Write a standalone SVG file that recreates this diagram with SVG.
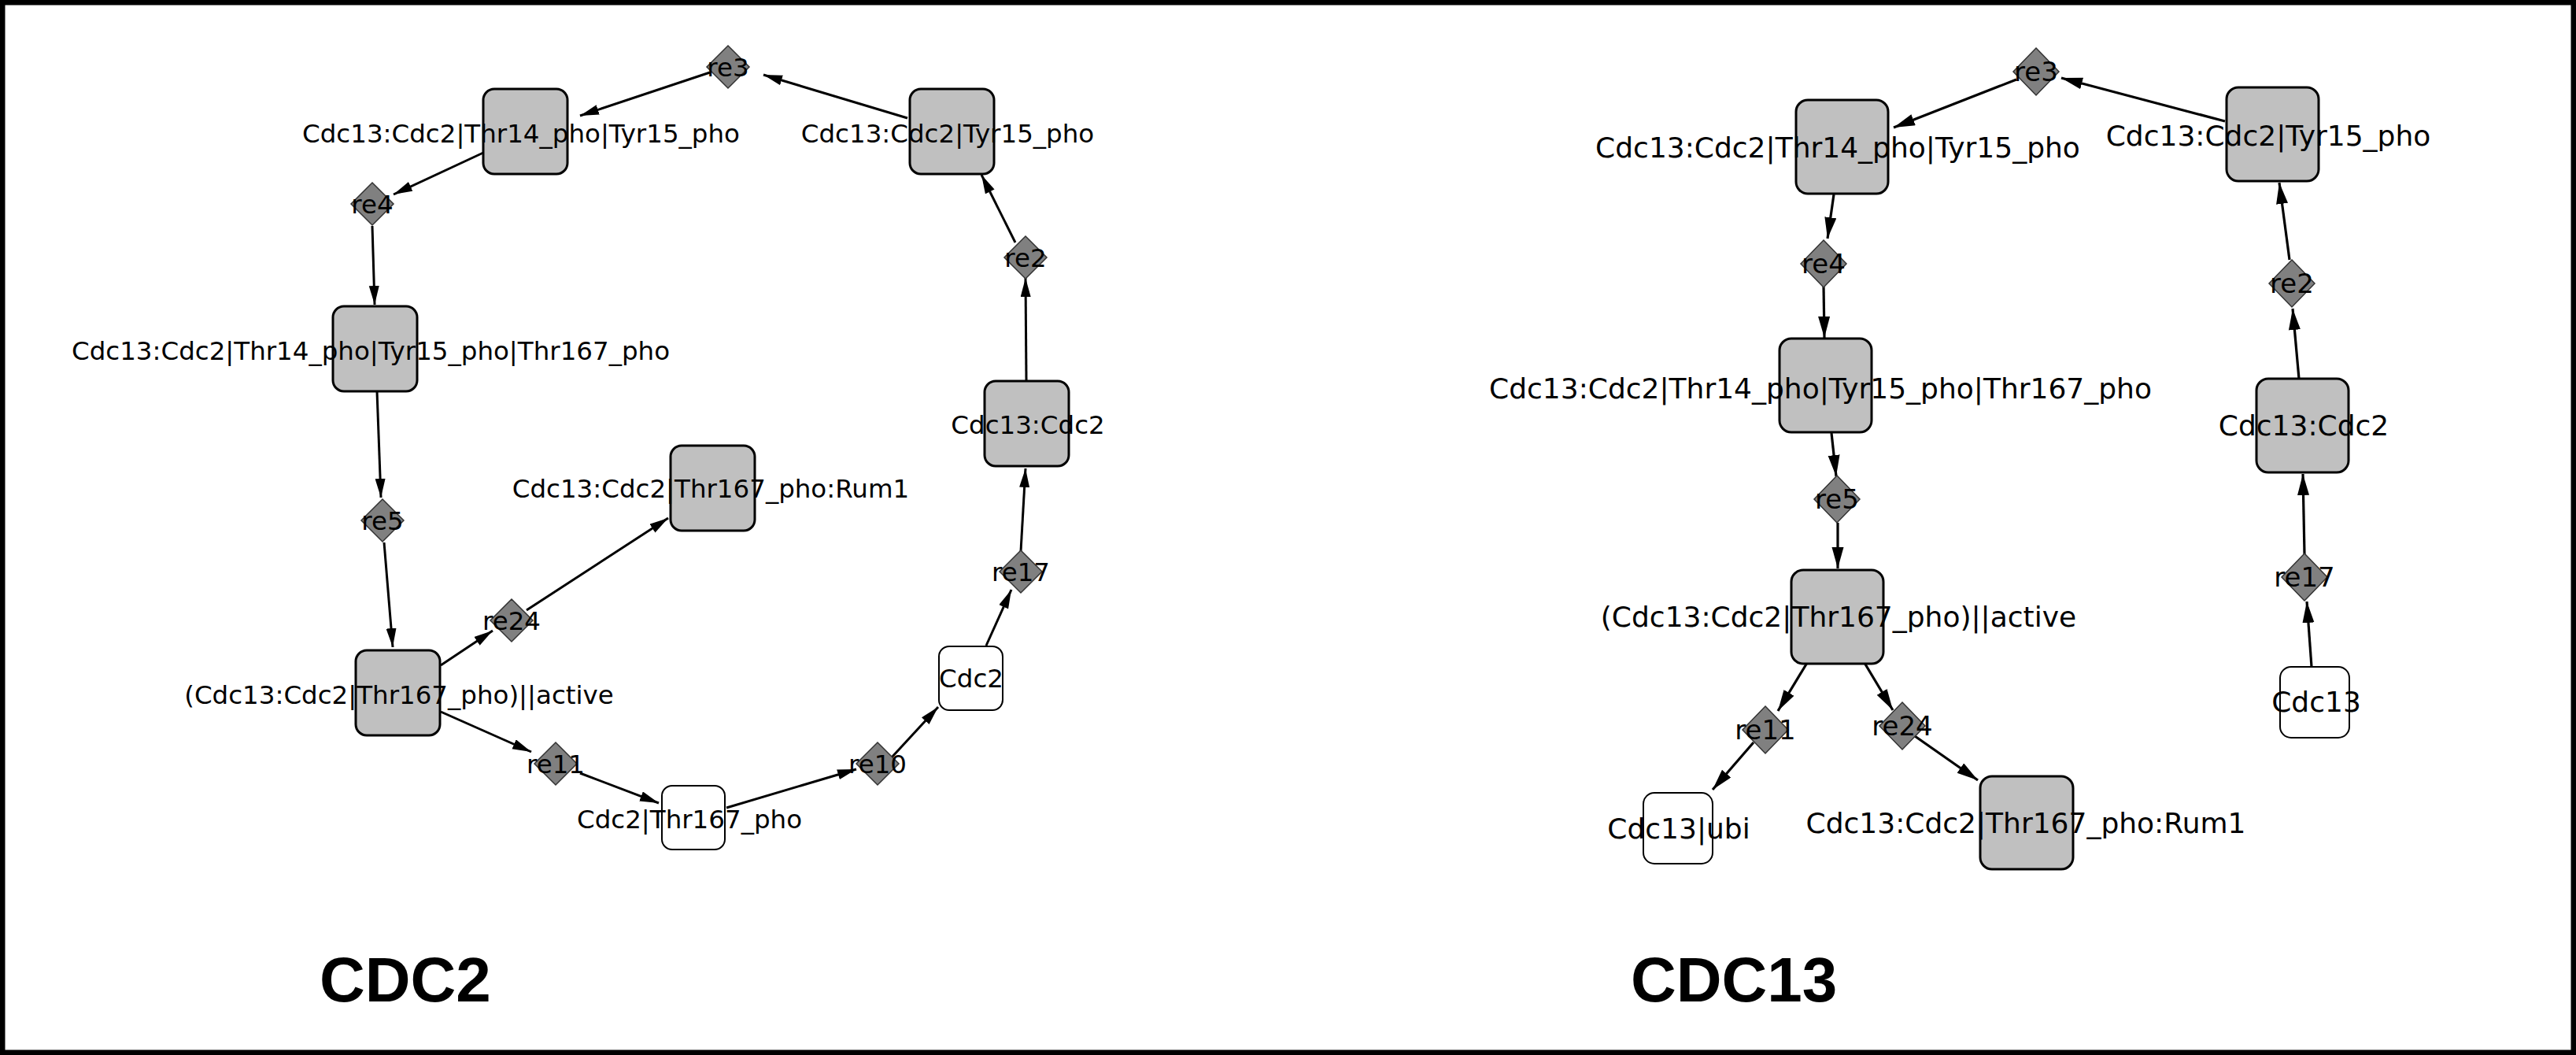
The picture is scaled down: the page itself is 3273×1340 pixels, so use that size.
<svg xmlns="http://www.w3.org/2000/svg" width="3273" height="1340" viewBox="0 0 3273 1340">
<defs>
<style>
.frame{fill:#ffffff;stroke:#000000;stroke-width:6.5}
.sp{fill:#c0c0c0;stroke:#000000;stroke-width:3}
.sw{fill:#ffffff;stroke:#000000;stroke-width:2}
.re{fill:#808080;stroke:#333333;stroke-width:1.5}
.lbl{font-family:"DejaVu Sans","Liberation Sans",sans-serif;fill:#000000;text-anchor:middle}
.l{font-size:32.5px}
.r{font-size:36px}
.rr{font-size:34px}
.title{font-family:"Liberation Sans",Arial,sans-serif;font-weight:bold;font-size:80px;fill:#000000}
.e{stroke:#000000;stroke-width:3;fill:none}
.eL{marker-end:url(#arrL)}
.eR{marker-end:url(#arrR);stroke-width:3.2}
</style>
<marker id="arrL" markerUnits="userSpaceOnUse" markerWidth="26" markerHeight="14" refX="24" refY="6.5" orient="auto">
<path d="M0,0 L24,6.5 L0,13 z" fill="#000000"/>
</marker>
<marker id="arrR" markerUnits="userSpaceOnUse" markerWidth="29" markerHeight="16" refX="27" refY="7.5" orient="auto">
<path d="M0,0 L27,7.5 L0,15 z" fill="#000000"/>
</marker>
</defs>
<rect class="frame" x="3.25" y="3.25" width="3266.5" height="1333.5"/>

<g id="connectors">
<!-- left panel -->
<line class="e eL" x1="1153" y1="150" x2="970" y2="95"/>
<line class="e eL" x1="902" y1="92" x2="737" y2="147"/>
<line class="e eL" x1="614" y1="194" x2="500" y2="247"/>
<line class="e eL" x1="473" y1="287" x2="476" y2="387"/>
<line class="e eL" x1="479" y1="497" x2="484" y2="632"/>
<line class="e eL" x1="488" y1="689" x2="499" y2="822"/>
<line class="e eL" x1="560" y1="845" x2="626" y2="801"/>
<line class="e eL" x1="669" y1="775" x2="849" y2="658"/>
<line class="e eL" x1="560" y1="904" x2="675" y2="955"/>
<line class="e eL" x1="737" y1="982" x2="837" y2="1020"/>
<line class="e eL" x1="923" y1="1026" x2="1088" y2="977"/>
<line class="e eL" x1="1132" y1="963" x2="1192" y2="898"/>
<line class="e eL" x1="1253" y1="820" x2="1285" y2="749"/>
<line class="e eL" x1="1297" y1="700" x2="1303" y2="595"/>
<line class="e eL" x1="1304" y1="484" x2="1303" y2="353"/>
<line class="e eL" x1="1290" y1="308" x2="1247" y2="222"/>
<!-- right panel -->
<line class="e eR" x1="2827" y1="154" x2="2619" y2="99"/>
<line class="e eR" x1="2562" y1="101" x2="2406" y2="162"/>
<line class="e eR" x1="2330" y1="247" x2="2322" y2="303"/>
<line class="e eR" x1="2317" y1="363" x2="2318" y2="429"/>
<line class="e eR" x1="2327" y1="550" x2="2333" y2="605"/>
<line class="e eR" x1="2335" y1="664" x2="2335" y2="722"/>
<line class="e eR" x1="2296" y1="842" x2="2259" y2="903"/>
<line class="e eR" x1="2228" y1="943" x2="2176" y2="1003"/>
<line class="e eR" x1="2369" y1="842" x2="2405" y2="902"/>
<line class="e eR" x1="2433" y1="935" x2="2513" y2="991"/>
<line class="e eR" x1="2937" y1="847" x2="2931" y2="764"/>
<line class="e eR" x1="2928" y1="704" x2="2926" y2="602"/>
<line class="e eR" x1="2921" y1="481" x2="2913" y2="392"/>
<line class="e eR" x1="2909" y1="330" x2="2896" y2="232"/>
</g>

<!-- LEFT PANEL: CDC2 -->
<g id="L_Cdc13_Cdc2_Thr14_Tyr15">
<rect class="sp" x="614" y="113" width="107" height="108" rx="14"/>
<text class="lbl l" x="662" y="181">Cdc13:Cdc2|Thr14_pho|Tyr15_pho</text>
</g>
<g id="L_Cdc13_Cdc2_Tyr15">
<rect class="sp" x="1156" y="113" width="107" height="108" rx="14"/>
<text class="lbl l" x="1204" y="181">Cdc13:Cdc2|Tyr15_pho</text>
</g>
<g id="L_Cdc13_Cdc2_Thr14_Tyr15_Thr167">
<rect class="sp" x="423" y="389" width="107" height="108" rx="14"/>
<text class="lbl l" x="471" y="457">Cdc13:Cdc2|Thr14_pho|Tyr15_pho|Thr167_pho</text>
</g>
<g id="L_Cdc13_Cdc2">
<rect class="sp" x="1251" y="484" width="107" height="108" rx="14"/>
<text class="lbl l" x="1306" y="551">Cdc13:Cdc2</text>
</g>
<g id="L_Cdc13_Cdc2_Thr167_Rum1">
<rect class="sp" x="852" y="566" width="107" height="108" rx="14"/>
<text class="lbl l" x="903" y="632">Cdc13:Cdc2|Thr167_pho:Rum1</text>
</g>
<g id="L_active">
<rect class="sp" x="452" y="826" width="107" height="108" rx="14"/>
<text class="lbl l" x="507" y="894">(Cdc13:Cdc2|Thr167_pho)||active</text>
</g>
<g id="L_Cdc2_Thr167">
<rect class="sw" x="841" y="998" width="80" height="81" rx="13"/>
<text class="lbl l" x="876" y="1052">Cdc2|Thr167_pho</text>
</g>
<g id="L_Cdc2">
<rect class="sw" x="1193" y="821" width="81" height="81" rx="13"/>
<text class="lbl l" x="1234" y="873">Cdc2</text>
</g>
<g id="L_re3">
<polygon class="re" points="925,58 952,85 925,112 898,85"/>
<text class="lbl l" x="925" y="97">re3</text>
</g>
<g id="L_re4">
<polygon class="re" points="473,232 500,259 473,286 446,259"/>
<text class="lbl l" x="473" y="271">re4</text>
</g>
<g id="L_re2">
<polygon class="re" points="1303,300 1330,327 1303,354 1276,327"/>
<text class="lbl l" x="1303" y="339">re2</text>
</g>
<g id="L_re5">
<polygon class="re" points="486,634 513,661 486,688 459,661"/>
<text class="lbl l" x="486" y="673">re5</text>
</g>
<g id="L_re24">
<polygon class="re" points="650,761 677,788 650,815 623,788"/>
<text class="lbl l" x="650" y="800">re24</text>
</g>
<g id="L_re11">
<polygon class="re" points="706,943 733,970 706,997 679,970"/>
<text class="lbl l" x="706" y="982">re11</text>
</g>
<g id="L_re10">
<polygon class="re" points="1115,943 1142,970 1115,997 1088,970"/>
<text class="lbl l" x="1115" y="982">re10</text>
</g>
<g id="L_re17">
<polygon class="re" points="1297,699 1324,726 1297,753 1270,726"/>
<text class="lbl l" x="1297" y="738">re17</text>
</g>
<g id="L_title">
<text class="title" x="406" y="1272">CDC2</text>
</g>

<!-- RIGHT PANEL: CDC13 -->
<g id="R_Cdc13_Cdc2_Thr14_Tyr15">
<rect class="sp" x="2282" y="127" width="117" height="119" rx="15"/>
<text class="lbl r" x="2335" y="200">Cdc13:Cdc2|Thr14_pho|Tyr15_pho</text>
</g>
<g id="R_Cdc13_Cdc2_Tyr15">
<rect class="sp" x="2829" y="111" width="117" height="119" rx="15"/>
<text class="lbl r" x="2882" y="185">Cdc13:Cdc2|Tyr15_pho</text>
</g>
<g id="R_Cdc13_Cdc2_Thr14_Tyr15_Thr167">
<rect class="sp" x="2261" y="430" width="117" height="119" rx="15"/>
<text class="lbl r" x="2313" y="506">Cdc13:Cdc2|Thr14_pho|Tyr15_pho|Thr167_pho</text>
</g>
<g id="R_Cdc13_Cdc2">
<rect class="sp" x="2867" y="481" width="117" height="119" rx="15"/>
<text class="lbl r" x="2927" y="553">Cdc13:Cdc2</text>
</g>
<g id="R_active">
<rect class="sp" x="2276" y="724" width="117" height="119" rx="15"/>
<text class="lbl r" x="2336" y="796">(Cdc13:Cdc2|Thr167_pho)||active</text>
</g>
<g id="R_Cdc13_Cdc2_Thr167_Rum1">
<rect class="sp" x="2516" y="986" width="118" height="118" rx="15"/>
<text class="lbl r" x="2574" y="1058">Cdc13:Cdc2|Thr167_pho:Rum1</text>
</g>
<g id="R_Cdc13_ubi">
<rect class="sw" x="2088" y="1007" width="88" height="90" rx="14"/>
<text class="lbl r" x="2133" y="1065">Cdc13|ubi</text>
</g>
<g id="R_Cdc13">
<rect class="sw" x="2897" y="847" width="88" height="90" rx="14"/>
<text class="lbl r" x="2943" y="904">Cdc13</text>
</g>
<g id="R_re3">
<polygon class="re" points="2587,61 2616,91 2587,121 2558,91"/>
<text class="lbl rr" x="2587" y="103">re3</text>
</g>
<g id="R_re4">
<polygon class="re" points="2317,305 2346,335 2317,365 2288,335"/>
<text class="lbl rr" x="2317" y="347">re4</text>
</g>
<g id="R_re2">
<polygon class="re" points="2912,330 2941,360 2912,390 2883,360"/>
<text class="lbl rr" x="2912" y="372">re2</text>
</g>
<g id="R_re5">
<polygon class="re" points="2334,604 2363,634 2334,664 2305,634"/>
<text class="lbl rr" x="2334" y="646">re5</text>
</g>
<g id="R_re11">
<polygon class="re" points="2243,897 2272,927 2243,957 2214,927"/>
<text class="lbl rr" x="2243" y="939">re11</text>
</g>
<g id="R_re24">
<polygon class="re" points="2417,892 2446,922 2417,952 2388,922"/>
<text class="lbl rr" x="2417" y="934">re24</text>
</g>
<g id="R_re17">
<polygon class="re" points="2928,703 2957,733 2928,763 2899,733"/>
<text class="lbl rr" x="2928" y="745">re17</text>
</g>
<g id="R_title">
<text class="title" x="2072" y="1272">CDC13</text>
</g>
</svg>
